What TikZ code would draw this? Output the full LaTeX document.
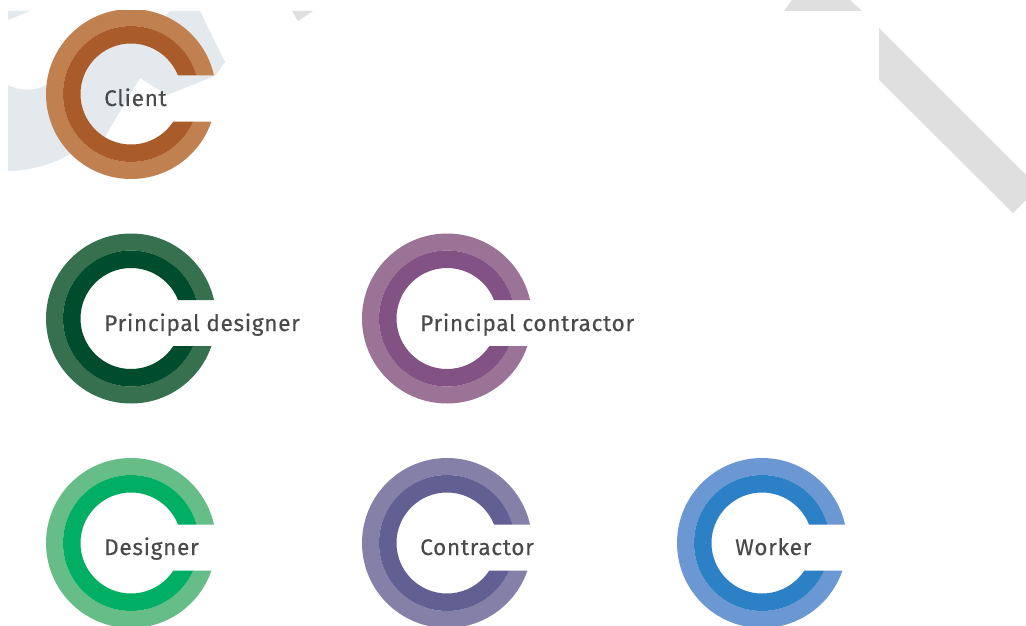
\documentclass[tikz,border=0pt]{standalone}
\usepackage{fontspec}
\setmainfont{Fira Sans}
\definecolor{bgblue}{HTML}{E4E9EE}
\definecolor{bggrey}{HTML}{DFDFDF}
\definecolor{txt}{HTML}{4A4A4C}
\definecolor{cliA}{HTML}{C08050}\definecolor{cliB}{HTML}{A95B29}
\definecolor{pdA}{HTML}{36704F}\definecolor{pdB}{HTML}{004D2D}
\definecolor{pcA}{HTML}{9B7396}\definecolor{pcB}{HTML}{835284}
\definecolor{desA}{HTML}{66BD88}\definecolor{desB}{HTML}{00AF63}
\definecolor{conA}{HTML}{8480A8}\definecolor{conB}{HTML}{625F92}
\definecolor{wrkA}{HTML}{6B98D2}\definecolor{wrkB}{HTML}{2C80C6}
\tikzset{
  rolelabel/.style={anchor=base west,inner sep=0pt,text=txt,font=\fontsize{22.6}{26}\selectfont\addfontfeatures{LetterSpace=3.0,FakeBold=0.25}},
}
% centre x, centre y, outer colour, inner colour
\newcommand{\cring}[4]{%
  \begin{scope}[shift={(#1,#2)},even odd rule]
    \clip (-100,-100) rectangle (100,100) (0,-18.5) rectangle (100,27.5);
    \fill[#3] (0,0) circle[radius=85] (0,0) circle[radius=68];
    \fill[#4] (0,0) circle[radius=68] (0,0) circle[radius=50.5];
  \end{scope}}
\begin{document}
\begin{tikzpicture}[x=1pt,y=-1pt]
\useasboundingbox (0,0) rectangle (1026,626);
\fill[white] (0,0) rectangle (1026,626);
% background marks
\fill[bgblue] (8,11) -- (30,11) -- (8,20) -- cycle;
\fill[bgblue] (8,85) .. controls (22,92) and (40,93) .. (60,76) -- (75,60) -- (100,40) -- (150,30) -- (170,11) -- (200,11) -- (225,62) -- (215,76)
  -- (167,95) -- (140,78) -- (103,140) -- (80,145) -- (68,155) .. controls (50,166) and (25,171) .. (8,171) -- cycle;
\fill[bggrey] (292,11) -- (313,11) -- (298,21) -- cycle;
\fill[bggrey] (792,0) -- (850,0) -- (862,11) -- (784,11) -- cycle;
\fill[bggrey] (879,28) -- (1026,175) -- (1026,200) -- (1013,213) -- (879,80) -- cycle;
% rings
\begin{scope}
  \clip (0,11) rectangle (1026,626);
  \cring{131}{94}{cliA}{cliB}
\end{scope}
\cring{131}{318.5}{pdA}{pdB}
\cring{447}{318.5}{pcA}{pcB}
\cring{131}{543}{desA}{desB}
\cring{447}{543}{conA}{conB}
\cring{762}{543}{wrkA}{wrkB}
% labels
\node[rolelabel] (client) at (104,106) {Client};
\node[rolelabel] (pdesigner) at (104,331) {Principal designer};
\node[rolelabel] (pcontractor) at (420,331) {Principal contractor};
\node[rolelabel] (designer) at (104,555) {Designer};
\node[rolelabel] (contractor) at (420,555) {Contractor};
\node[rolelabel] (worker) at (735,555) {Worker};
\end{tikzpicture}
\end{document}
